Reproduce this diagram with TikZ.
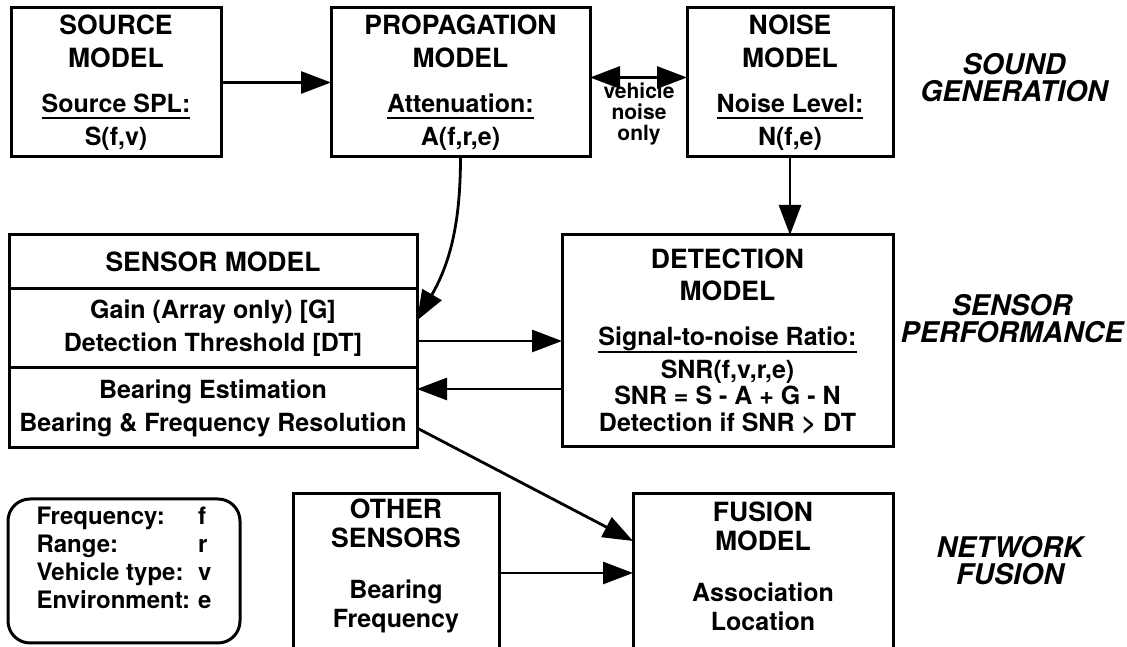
\documentclass[tikz,border=0pt]{standalone}
\usepackage{fontspec}
\setmainfont{TeX Gyre Heros}
\usetikzlibrary{arrows.meta,calc,positioning}
\newcommand{\ulinetext}[1]{\setbox0\hbox{#1}\rlap{\rule[-7pt]{\wd0}{2.2pt}}\box0}
\newcommand{\boxtitle}[1]{{\fontsize{26.5}{33}\selectfont #1}}

\begin{document}
\begin{tikzpicture}[x=1pt, y=1pt,
		modelbox/.style={draw, line width=3pt, align=center, inner sep=0pt, outer sep=0pt, font=\fontsize{25}{33}\selectfont\bfseries},
		openbox/.style={align=center, inner sep=0pt, outer sep=0pt, minimum height=144, font=\fontsize{25}{29}\selectfont\bfseries},
		flow/.style={line width=2.8pt, -{Triangle[length=30pt,width=22pt]}},
		twoway/.style={line width=2.8pt, {Triangle[length=30pt,width=22pt]}-{Triangle[length=30pt,width=22pt]}},
		stagelabel/.style={align=center, font=\fontsize{28.5}{27}\selectfont\bfseries\itshape}]
	\useasboundingbox (0,0) rectangle (1127,647);
	% sound generation
	\node [modelbox, minimum width=210, minimum height=149] (source) at (116,564.5) {\boxtitle{SOURCE}\\\boxtitle{MODEL}\\[12pt]\ulinetext{Source SPL:}\\S(f,v)};
	\node [modelbox, minimum width=259, minimum height=149] (propagation) at (460.5,564.5) {\boxtitle{PROPAGATION}\\\boxtitle{MODEL}\\[12pt]\ulinetext{Attenuation:}\\A(f,r,e)};
	\node [modelbox, minimum width=206, minimum height=149] (noise) at (790,564.5) {\boxtitle{NOISE}\\\boxtitle{MODEL}\\[12pt]\ulinetext{Noise Level:}\\N(f,e)};
	\node [align=center, font=\fontsize{21}{21}\selectfont\bfseries] (vehiclenote) at (639,533.5) {vehicle\\noise\\only};
	% sensor performance
	\node [modelbox, minimum width=408, minimum height=54] (sensortitle) at (213,385) {\boxtitle{SENSOR MODEL}};
	\node [modelbox, minimum width=408, minimum height=79, below=0pt of sensortitle] (sensorgain) {Gain (Array only) [G]\\Detection Threshold [DT]};
	\node [modelbox, minimum width=408, minimum height=80, below=0pt of sensorgain] (sensorbearing) {Bearing Estimation\\Bearing \& Frequency Resolution};
	\node [modelbox, minimum width=331, minimum height=212] (detection) at (727.5,306) {\boxtitle{DETECTION}\\\boxtitle{MODEL}\\[12pt]\ulinetext{Signal-to-noise Ratio:}\\SNR(f,v,r,e)\\[-7pt]SNR = S - A + G - N\\[-7pt]Detection if SNR > DT};
	% network fusion
	\node [draw, line width=3pt, rounded corners=22pt, minimum width=232, minimum height=144, inner sep=0pt, outer sep=0pt, font=\fontsize{24}{28}\selectfont\bfseries] (legend) at (124,76) {\begin{tabular}{@{}l@{\hspace{8pt}}l@{}}Frequency: & f\\Range: & r\\Vehicle type: & v\\Environment: & e\\[20pt]\end{tabular}};
	\node [openbox, minimum width=206] (other) at (396,81) {\boxtitle{OTHER}\\\boxtitle{SENSORS}\\[22pt]Bearing\\Frequency};
	\node [openbox, minimum width=260] (fusion) at (763,81) {\boxtitle{FUSION}\\\boxtitle{MODEL}\\[22pt]Association\\Location};
	\foreach \boxname in {other,fusion}
		\draw [line width=3pt] ([yshift=-30pt]\boxname.south west) |- (\boxname.north east) -- ([yshift=-30pt]\boxname.south east);
	% stage labels
	\node [stagelabel] (soundlabel) at (1014,569.5) {SOUND\\GENERATION};
	\node [stagelabel] (sensorlabel) at (1012,328) {SENSOR\\PERFORMANCE};
	\node [stagelabel] (networklabel) at (1010,86) {NETWORK\\FUSION};
	% connectors
	\draw [flow] (source) -- (propagation);
	\draw [twoway] ([yshift=5pt]propagation.east) -- ([yshift=5pt]noise.west);
	\draw [flow] (propagation.south) to [out=-90, in=60] ([yshift=8pt]sensorgain.east);
	\draw [flow] (noise.south) -- (noise.south |- detection.north);
	\draw [flow] (sensorgain.east |- detection.west) -- (detection.west);
	\coordinate (returnstart) at ([yshift=-48pt]detection.west);
	\draw [flow] (returnstart) -- (returnstart -| sensorbearing.east);
	\draw [flow] ([yshift=-20pt]sensorbearing.east) -- ([yshift=25pt]fusion.west);
	\draw [flow] ([yshift=-7pt]other.east) -- ([yshift=-7pt]fusion.west);
\end{tikzpicture}
\end{document}
